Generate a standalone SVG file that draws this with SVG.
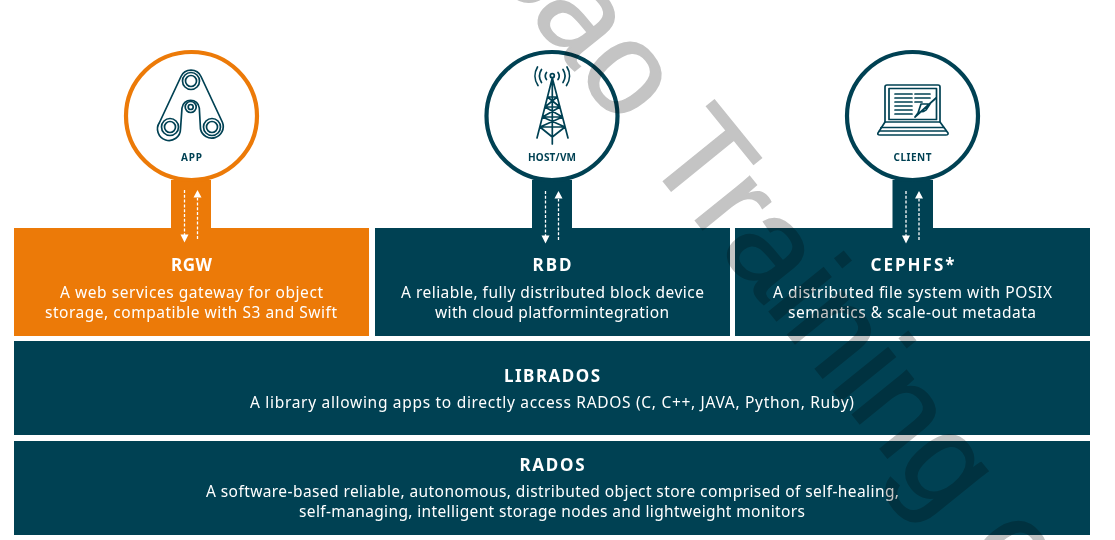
<svg xmlns="http://www.w3.org/2000/svg" width="1115" height="540" viewBox="0 0 1115 540">
<style>
text{font-family:"Noto Sans","Roboto",sans-serif;text-anchor:middle;fill:#fff}
.t{font-size:17px;font-weight:700}
.d{font-size:15.5px}
.l{font-size:10px;font-weight:700;fill:#004153}
.teal{fill:#004153}
.or{fill:#ec7a08}
.ring{fill:#fff;stroke-width:4.2}
.ic{fill:none;stroke:#004153;stroke-width:1.7;stroke-linecap:round;stroke-linejoin:round}
.dash{fill:none;stroke:#fff;stroke-width:1.3;stroke-dasharray:3 1.8}
.wm{font-family:"Liberation Sans",sans-serif;font-size:132px;text-anchor:start;fill:#c4c4c4;stroke:#c4c4c4;stroke-width:1.5;mix-blend-mode:multiply}
</style>
<defs>
<g id="arrows">
<path class="dash" d="M-6.5,0V45M6.5,49V8"/>
<path fill="#fff" d="M-10.5,44.500H-2.500L-6.500,52.500ZM2.500,7.500H10.500L6.500,0Z"/>
</g>
</defs>
<rect width="1115" height="540" fill="#fff"/>
<g id="rgw"><rect class="or" x="14" y="228" width="355" height="108"/><rect class="or" x="171" y="180" width="40" height="50"/>
<text class="t" x="191.500" y="270.500" textLength="41">RGW</text>
<text class="d" x="191.500" y="297.500" textLength="263">A web services gateway for object</text>
<text class="d" x="191" y="317.500" textLength="292">storage, compatible with S3 and Swift</text></g>
<g id="rbd"><rect class="teal" x="375" y="228" width="355" height="108"/><rect class="teal" x="532" y="180" width="40" height="50"/>
<text class="t" x="552" y="270.500" textLength="39">RBD</text>
<text class="d" x="552.500" y="297.500" textLength="303">A reliable, fully distributed block device</text>
<text class="d" x="552" y="317.500" textLength="234">with cloud platformintegration</text></g>
<g id="cephfs"><rect class="teal" x="735" y="228" width="355" height="108"/><rect class="teal" x="892.500" y="180" width="40.500" height="50"/>
<text class="t" x="912.500" y="270.500" textLength="84">CEPHFS*</text>
<text class="d" x="912.500" y="297.500" textLength="279">A distributed file system with POSIX</text>
<text class="d" x="912" y="317.500" textLength="248">semantics &amp; scale-out metadata</text></g>
<g id="librados"><rect class="teal" x="14" y="341" width="1076" height="94"/>
<text class="t" x="552" y="381.500" textLength="96">LIBRADOS</text>
<text class="d" x="552" y="407.500" textLength="604">A library allowing apps to directly access RADOS (C, C++, JAVA, Python, Ruby)</text></g>
<g id="rados"><rect class="teal" x="14" y="441" width="1076" height="94"/>
<text class="t" x="552" y="470.500" textLength="65">RADOS</text>
<text class="d" x="552.500" y="496.500" textLength="693">A software-based reliable, autonomous, distributed object store comprised of self-healing,</text>
<text class="d" x="552" y="516.500" textLength="506">self-managing, intelligent storage nodes and lightweight monitors</text></g>
<g id="connectors">
<use href="#arrows" x="191" y="190"/>
<use href="#arrows" x="552" y="191"/>
<use href="#arrows" x="912.500" y="191"/>
</g>
<g id="app">
<ellipse class="ring" cx="191.500" cy="116" rx="65.500" ry="64" stroke="#ec7a08"/>
<path class="ic" d="M181,76.500A11,11 0 0 1 201,76.500L222.500,122.500A11.500,11.500 0 1 1 200.500,129L199.300,108A8.700,8.700 0 0 0 182,108L180.500,129A11.500,11.500 0 1 1 159.500,122.500Z"/>
<circle class="ic" cx="191" cy="81" r="8.500"/><circle class="ic" cx="191" cy="81" r="5.500"/>
<circle class="ic" cx="190.700" cy="107" r="5.500"/><circle class="ic" cx="190.700" cy="107" r="2.500"/>
<circle class="ic" cx="170" cy="127" r="8.500"/><circle class="ic" cx="170" cy="127" r="5.500"/>
<circle class="ic" cx="212" cy="127" r="8.500"/><circle class="ic" cx="212" cy="127" r="5.500"/>
<text class="l" x="191.500" y="161" textLength="21">APP</text>
</g>
<g id="host">
<ellipse class="ring" cx="552" cy="116" rx="65.500" ry="64" stroke="#004153"/>
<circle class="ic" cx="552.300" cy="75.700" r="2"/>
<path class="ic" d="M552.300,78L537,138M552.300,78L568,138M552.300,78V144M547.500,97H557M545,107H560M542.500,117H562.500M540,127H565M547.500,97L560,107M557,97L545,107M545,107L562.500,117M560,107L542.500,117M542.500,117L565,127M562.500,117L540,127M540,127L552.300,137L565,127"/>
<path class="ic" d="M546.500,72.500A6,6 0 0 0 546.500,79.500M558,72.500A6,6 0 0 1 558,79.500M541.500,69.500A12,12 0 0 0 541.500,82.500M563,69.500A12,12 0 0 1 563,82.500M537.500,67A17,17 0 0 0 538,85.500M567,67A17,17 0 0 1 566.500,85.500"/>
<text class="l" x="552" y="161" textLength="48">HOST/VM</text>
</g>
<g id="client">
<ellipse class="ring" cx="912.500" cy="116" rx="65.500" ry="64" stroke="#004153"/>
<path class="ic" d="M885,122V87Q885,85 887,85H938Q940,85 940,87V122"/>
<rect class="ic" x="889" y="88.500" width="47.500" height="31"/>
<path class="ic" d="M885,122H940L948,133Q948.500,135 946,135H880Q877,135 878,133Z"/>
<path class="ic" d="M881,127.500H944M879.500,131H946"/>
<path class="ic" d="M895,94H912M895,98H912M895,102H912M895,106H912M895,110H912M895,114H912M915,94H930M915,98H930M915,102H922"/>
<path class="ic" d="M915,117L936,98M921,104L918,113L915,117M921,104H930L926,110Q924,112 920,112"/>
<text class="l" x="912.500" y="161" textLength="38">CLIENT</text>
</g>
<text class="wm" transform="translate(486.600,-37.300) rotate(51)">cao Training c</text>
</svg>
